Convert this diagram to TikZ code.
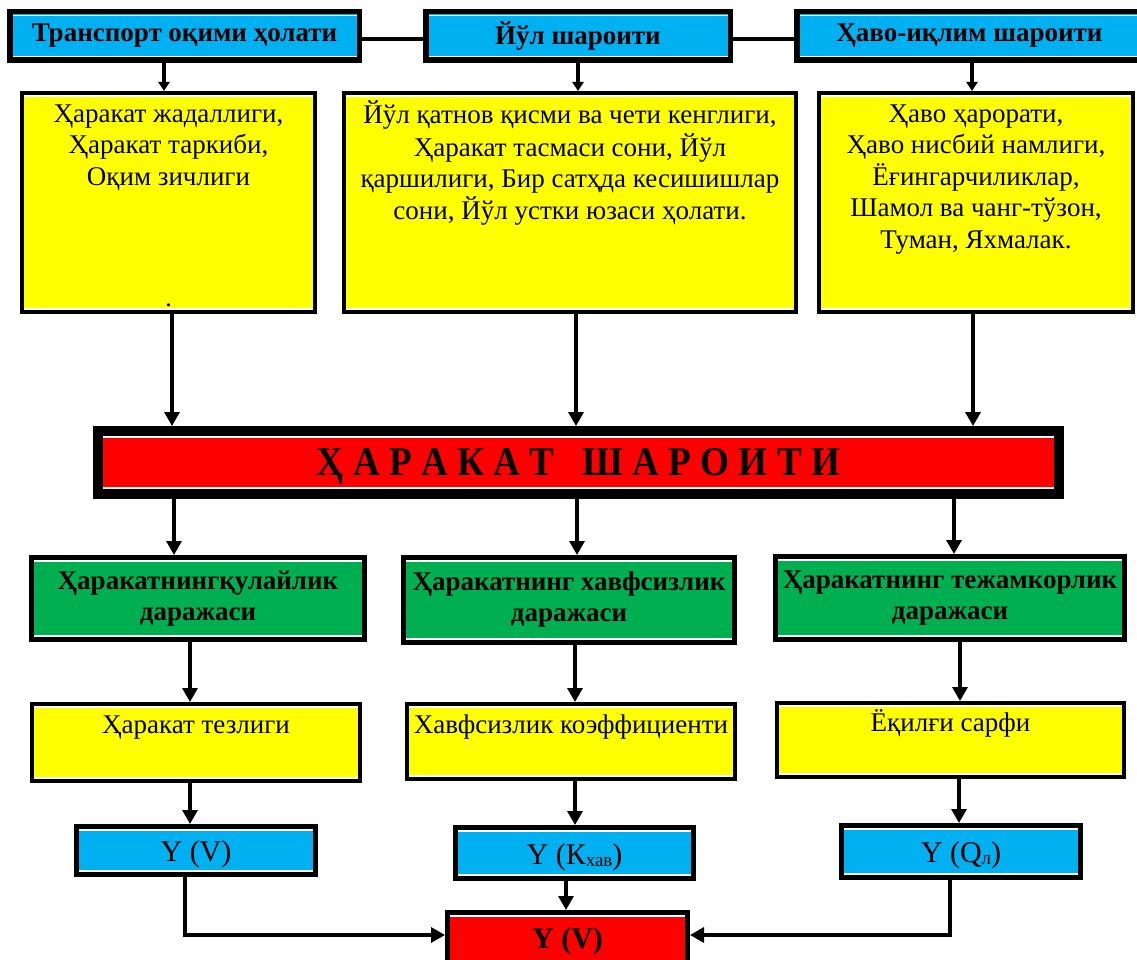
\documentclass[tikz,border=0pt]{standalone}
\usepackage{fontspec}
\setmainfont{Liberation Serif}
\usetikzlibrary{arrows.meta}
\definecolor{cblue}{HTML}{00B0F0}
\definecolor{cyel}{HTML}{FFFF00}
\definecolor{cgreen}{HTML}{00B050}
\definecolor{cred}{HTML}{FF0000}
\begin{document}
\begin{tikzpicture}[x=1pt,y=-1pt,
  bx/.style={draw=black, line width=#1, inner sep=0pt, align=center,
    path picture={
      \draw[white,line width=1.6pt]
        ([yshift=-#1/2-0.9pt]path picture bounding box.north west) --
        ([yshift=-#1/2-0.9pt]path picture bounding box.north east);
      \draw[white,line width=1.6pt]
        ([yshift=#1/2+0.9pt]path picture bounding box.south west) --
        ([yshift=#1/2+0.9pt]path picture bounding box.south east);}},
  tbox/.style={bx=5.5pt, fill=cblue, font=\fontsize{27pt}{31pt}\selectfont\bfseries},
  ybox/.style={bx=4pt, fill=cyel},
  gbox/.style={bx=5pt, fill=cgreen, font=\fontsize{27pt}{31pt}\selectfont\bfseries},
  bbox/.style={bx=5pt, fill=cblue, font=\fontsize{30pt}{34pt}\selectfont, text height=28pt, text depth=6pt},
  rbox/.style={bx=5pt, fill=cred, font=\fontsize{30pt}{34pt}\selectfont\bfseries},
  barbox/.style={bx=10pt, fill=cred},
  body/.style={inner sep=0pt, anchor=north, align=center, font=\fontsize{27pt}{31.5pt}\selectfont},
  ln/.style={line width=3.2pt},
  arr/.style={line width=3.2pt, -{Triangle[length=14pt,width=15pt]}},
  arrS/.style={line width=3.2pt, -{Triangle[length=9pt,width=11pt]}}]
\useasboundingbox (0,0) rectangle (1137,960);
\clip (0,0) rectangle (1137,960);
\fill[white] (0,0) rectangle (1137,960);

% top row
\node[tbox, minimum width=349.5pt, minimum height=48.5pt] (t1) at (184.5,36) {Транспорт оқими ҳолати};
\node[tbox, minimum width=304.5pt, minimum height=48.5pt] (t2) at (578,36) {Йўл шароити};
\node[tbox, minimum width=345.5pt, minimum height=48.5pt] (t3) at (969.5,36) {Ҳаво-иқлим шароити};
\draw[ln] ([yshift=-3pt]t1.east) -- ([yshift=-3pt]t2.west);
\draw[ln] ([yshift=-3pt]t2.east) -- ([yshift=-3pt]t3.west);

% yellow boxes
\node[ybox, minimum width=293pt, minimum height=219pt] (y1) at (168.5,202.5) {};
\node[ybox, minimum width=452pt, minimum height=219pt] (y2) at (570,202.5) {};
\node[ybox, minimum width=314pt, minimum height=219pt] (y3) at (976,202.5) {};
\node[body] (y1t) at ([yshift=-9pt]y1.north) {\strut Ҳаракат жадаллиги,\\ Ҳаракат таркиби,\\ Оқим зичлиги};
\node[body] (y2t) at ([yshift=-9pt]y2.north) {\strut Йўл қатнов қисми ва чети кенглиги,\\ Ҳаракат тасмаси сони, Йўл\\ қаршилиги, Бир сатҳда кесишишлар\\ сони, Йўл устки юзаси ҳолати.};
\node[body] (y3t) at ([yshift=-9pt]y3.north) {\strut Ҳаво ҳарорати,\\ Ҳаво нисбий намлиги,\\ Ёғингарчиликлар,\\ Шамол ва чанг-тўзон,\\ Туман, Яхмалак.};
\node[inner sep=0pt, anchor=base, font=\fontsize{26pt}{30pt}\selectfont] (y1dot) at ([yshift=8pt]y1.south) {.};

\draw[arrS] ([xshift=-20.5pt]t1.south) -- ([xshift=-20.5pt]t1.south |- y1.north);
\draw[arrS] (t2.south) -- (t2.south |- y2.north);
\draw[arrS] ([xshift=2.5pt]t3.south) -- ([xshift=2.5pt]t3.south |- y3.north);

% red bar
\node[barbox, minimum width=961pt, minimum height=63pt] (bar) at (578.5,462.5) {};
\node[inner sep=0pt, anchor=base] (bart) at ([yshift=-12.5pt]bar.center)
  {\resizebox{523pt}{27pt}{\bfseries Ҳ А Р А К А Т\ \ \ Ш А Р О И Т И}};

\draw[arr] ([xshift=3.5pt]y1.south) -- ([xshift=3.5pt]y1.south |- bar.north);
\draw[arr] ([xshift=6pt]y2.south) -- ([xshift=6pt]y2.south |- bar.north);
\draw[arr] ([xshift=-3pt]y3.south) -- ([xshift=-3pt]y3.south |- bar.north);

% green boxes
\node[gbox, minimum width=333pt, minimum height=82pt] (g1) at (198,598.5) {Ҳаракатнингқулайлик\\даражаси};
\node[gbox, minimum width=331pt, minimum height=85pt] (g2) at (569,600) {Ҳаракатнинг хавфсизлик\\даражаси};
\node[gbox, minimum width=349pt, minimum height=83pt] (g3) at (950,598) {Ҳаракатнинг тежамкорлик\\даражаси};

\draw[arr] ([xshift=-24pt]g1.north |- bar.south) -- ([xshift=-24pt]g1.north);
\draw[arr] ([xshift=8pt]g2.north |- bar.south) -- ([xshift=8pt]g2.north);
\draw[arr] ([xshift=4pt]g3.north |- bar.south) -- ([xshift=4pt]g3.north);

% small yellow boxes
\node[ybox, minimum width=328pt, minimum height=77pt] (s1) at (196,742.5) {};
\node[ybox, minimum width=328pt, minimum height=75pt] (s2) at (571,741.5) {};
\node[ybox, minimum width=347pt, minimum height=74pt] (s3) at (950.5,740) {};
\node[body] (s1t) at ([yshift=-9pt]s1.north) {\strut Ҳаракат тезлиги};
\node[body] (s2t) at ([yshift=-9pt]s2.north) {\strut Хавфсизлик коэффициенти};
\node[body] (s3t) at ([yshift=-8pt]s3.north) {\strut Ёқилғи сарфи};

\draw[arr] ([xshift=-8pt]g1.south) -- ([xshift=-8pt]g1.south |- s1.north);
\draw[arr] ([xshift=6pt]g2.south) -- ([xshift=6pt]g2.south |- s2.north);
\draw[arr] ([xshift=10pt]g3.south) -- ([xshift=10pt]g3.south |- s3.north);

% blue result boxes
\node[bbox, minimum width=239pt, minimum height=48pt] (b1) at (196,850.5) {Y (V)};
\node[bbox, minimum width=238pt, minimum height=51pt] (b2) at (574.5,853) {Y (К\raisebox{-2pt}{\fontsize{19pt}{19pt}\selectfont хав})};
\node[bbox, minimum width=239pt, minimum height=52pt] (b3) at (961,851.5) {Y (Q\raisebox{-2pt}{\fontsize{19pt}{19pt}\selectfont л})};

\draw[arr] ([xshift=-6pt]s1.south) -- ([xshift=-6pt]s1.south |- b1.north);
\draw[arr] ([xshift=4pt]s2.south) -- ([xshift=4pt]s2.south |- b2.north);
\draw[arr] ([xshift=8.5pt]s3.south) -- ([xshift=8.5pt]s3.south |- b3.north);

% final box
\node[rbox, minimum width=240pt, minimum height=57pt] (fin) at (567.5,941) {Y (V)};

\draw[arr] ([xshift=-11pt]b1.south) |- ([yshift=6pt]fin.west);
\draw[arr] ([xshift=-8.5pt]b2.south) -- ([xshift=-8.5pt]b2.south |- fin.north);
\draw[arr] ([xshift=-11pt]b3.south) |- ([yshift=6pt]fin.east);
\end{tikzpicture}
\end{document}
